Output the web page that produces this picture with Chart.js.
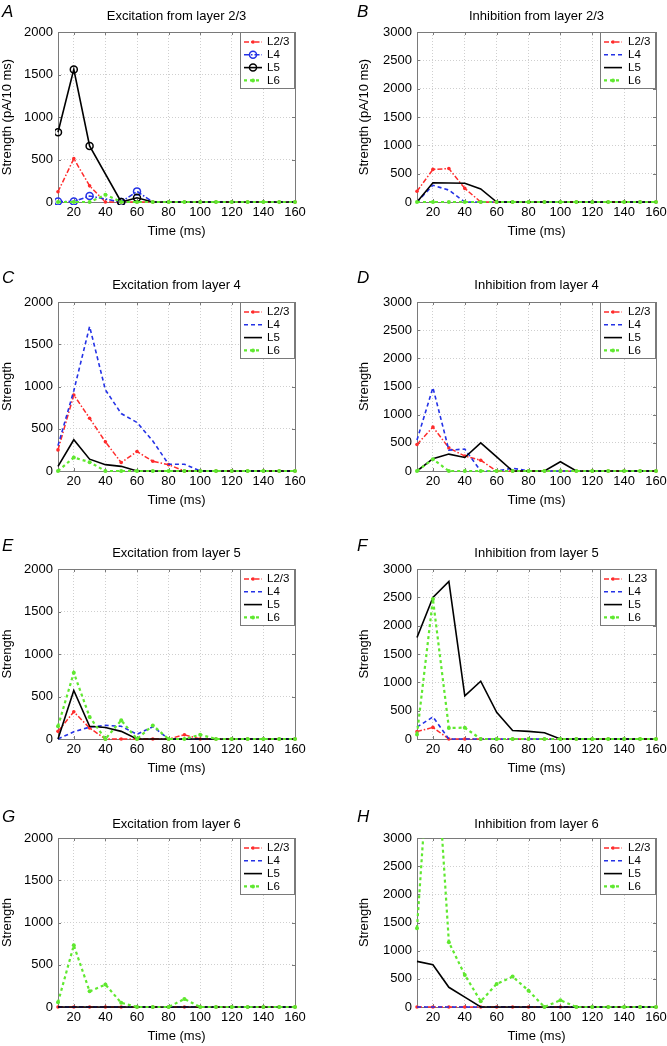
<!DOCTYPE html>
<html>
<head>
<meta charset="utf-8">
<script src="https://cdn.jsdelivr.net/npm/chart.js@4.4.0/dist/chart.umd.min.js"></script>
<style>
  body { margin: 0; background: #fff; width: 667px; height: 1046px; position: relative; overflow: hidden; }
  canvas { position: absolute; }
</style>
</head>
<body>
<canvas id="pA"></canvas><canvas id="pB"></canvas>
<canvas id="pC"></canvas><canvas id="pD"></canvas>
<canvas id="pE"></canvas><canvas id="pF"></canvas>
<canvas id="pG"></canvas><canvas id="pH"></canvas>
<script>
// time bins (ms) and axis ticks
var times = [10, 20, 30, 40, 50, 60, 70, 80, 90, 100, 110, 120, 130, 140, 150, 160];
var xTicks = [20, 40, 60, 80, 100, 120, 140, 160];
var layerNames = ['L2/3', 'L4', 'L5', 'L6'];
var layerNamesF = ['L23', 'L4', 'L5', 'L6'];

// A - excitation from layer 2/3 (no sample at 40 ms for L4/L5)
var aL23 = [120, 510, 190, 0, 0, 0, 0, 0, 0, 0, 0, 0, 0, 0, 0, 0];
var aL4  = [5, 5, 70, null, 0, 125, 0, 0, 0, 0, 0, 0, 0, 0, 0, 0];
var aL5  = [820, 1560, 660, null, 0, 50, 0, 0, 0, 0, 0, 0, 0, 0, 0, 0];
var aL6  = [0, 0, 0, 85, 0, 0, 0, 0, 0, 0, 0, 0, 0, 0, 0, 0];
// B - inhibition from layer 2/3
var bL23 = [190, 575, 590, 240, 0, 0, 0, 0, 0, 0, 0, 0, 0, 0, 0, 0];
var bL4  = [0, 295, 210, 0, 0, 0, 0, 0, 0, 0, 0, 0, 0, 0, 0, 0];
var bL5  = [0, 340, 335, 330, 230, 0, 0, 0, 0, 0, 0, 0, 0, 0, 0, 0];
var bL6  = [0, 0, 0, 0, 0, 0, 0, 0, 0, 0, 0, 0, 0, 0, 0, 0];
// C - excitation from layer 4
var cL23 = [250, 900, 625, 345, 100, 230, 115, 75, 0, 0, 0, 0, 0, 0, 0, 0];
var cL4  = [300, 950, 1710, 960, 680, 575, 355, 80, 80, 0, 0, 0, 0, 0, 0, 0];
var cL5  = [55, 370, 140, 75, 55, 0, 0, 0, 0, 0, 0, 0, 0, 0, 0, 0];
var cL6  = [0, 160, 105, 0, 0, 0, 0, 0, 0, 0, 0, 0, 0, 0, 0, 0];
// D - inhibition from layer 4
var dL23 = [470, 780, 410, 265, 190, 0, 0, 0, 0, 0, 0, 0, 0, 0, 0, 0];
var dL4  = [550, 1480, 370, 390, 0, 0, 50, 0, 0, 0, 0, 0, 0, 0, 0, 0];
var dL5  = [0, 220, 300, 240, 500, 250, 0, 0, 0, 165, 0, 0, 0, 0, 0, 0];
var dL6  = [0, 210, 0, 0, 0, 0, 0, 0, 0, 0, 0, 0, 0, 0, 0, 0];
// E - excitation from layer 5
var eL23 = [90, 320, 130, 0, 0, 0, 0, 0, 50, 0, 0, 0, 0, 0, 0, 0];
var eL4  = [0, 85, 140, 160, 150, 55, 145, 0, 0, 0, 0, 0, 0, 0, 0, 0];
var eL5  = [0, 570, 150, 135, 90, 0, 0, 0, 0, 0, 0, 0, 0, 0, 0, 0];
var eL6  = [150, 780, 260, 0, 220, 0, 160, 0, 0, 50, 0, 0, 0, 0, 0, 0];
// F - inhibition from layer 5
var fL23 = [130, 205, 0, 0, 0, 0, 0, 0, 0, 0, 0, 0, 0, 0, 0, 0];
var fL4  = [210, 390, 0, 0, 0, 0, 0, 0, 0, 0, 0, 0, 0, 0, 0, 0];
var fL5  = [1790, 2500, 2780, 760, 1020, 470, 150, 135, 110, 0, 0, 0, 0, 0, 0, 0];
var fL6  = [80, 2470, 195, 200, 0, 0, 0, 0, 0, 0, 0, 0, 0, 0, 0, 0];
// G - excitation from layer 6
var gL23 = [0, 0, 0, 0, 0, 0, 0, 0, 0, 0, 0, 0, 0, 0, 0, 0];
var gL4  = [0, 0, 0, 0, 0, 0, 0, 0, 0, 0, 0, 0, 0, 0, 0, 0];
var gL5  = [0, 0, 0, 0, 0, 0, 0, 0, 0, 0, 0, 0, 0, 0, 0, 0];
var gL6  = [55, 730, 185, 265, 50, 0, 0, 0, 95, 0, 0, 0, 0, 0, 0, 0];
// H - inhibition from layer 6 (L6 peak at 20 ms runs off the axis)
var hL23 = [0, 0, 0, 0, 0, 0, 0, 0, 0, 0, 0, 0, 0, 0, 0, 0];
var hL4  = [0, 0, 0, 0, 0, 0, 0, 0, 0, 0, 0, 0, 0, 0, 0, 0];
var hL5  = [810, 750, 350, 175, 0, 0, 0, 0, 0, 0, 0, 0, 0, 0, 0, 0];
var hL6  = [1400, 5550, 1150, 570, 100, 410, 540, 290, 0, 120, 0, 0, 0, 0, 0, 0];

Chart.defaults.font.family = '"Liberation Sans", Arial, Helvetica, sans-serif';
Chart.defaults.font.size = 13;
Chart.defaults.color = '#000';

var RED = '#ff2b2b', BLUE = '#2432e6', GREEN = '#5fe82f';

function lineStyle(i, circles) {
  var s = [
    { borderColor: RED, borderWidth: 1.5, borderDash: [5, 2, 1.5, 2], pointRadius: 1.8, pointBackgroundColor: RED, pointBorderWidth: 0 },
    { borderColor: BLUE, borderWidth: 1.6, borderDash: [4, 3], pointRadius: 0 },
    { borderColor: '#000', borderWidth: 1.6, borderDash: [], pointRadius: 0 },
    { borderColor: GREEN, borderWidth: 2.2, borderDash: [3, 3], pointRadius: 2, pointBackgroundColor: GREEN, pointBorderWidth: 0 }
  ][i];
  if (circles && (i === 1 || i === 2)) {
    // open circle markers, only drawn on the early part of the trace
    s.legendRadius = 3.5;
    s.pointRadius = function (c) { return c.parsed && c.parsed.x <= 60 ? 3.5 : 0; };
    s.pointBorderWidth = 1.5;
    s.pointBorderColor = s.borderColor;
    s.pointBackgroundColor = 'rgba(255,255,255,0)';
    s.spanGaps = true;
    if (i === 1) s.borderDash = [5, 2, 1.5, 2];
  }
  return s;
}

// frame, tick marks, legend box, panel letter and title
var decor = {
  id: 'decor',
  beforeDatasetsDraw: function (chart) {
    var ctx = chart.ctx, ca = chart.chartArea;
    var xs = chart.scales.x, ys = chart.scales.y;
    ctx.save();
    ctx.strokeStyle = '#7a7a7a';
    ctx.lineWidth = 1;
    ctx.beginPath();
    xs.ticks.forEach(function (t) {
      var px = Math.round(xs.getPixelForValue(t.value)) + 0.5;
      ctx.moveTo(px, ca.bottom); ctx.lineTo(px, ca.bottom - 3);
      ctx.moveTo(px, ca.top); ctx.lineTo(px, ca.top + 3);
    });
    ys.ticks.forEach(function (t) {
      var py = Math.round(ys.getPixelForValue(t.value)) + 0.5;
      ctx.moveTo(ca.left, py); ctx.lineTo(ca.left + 3, py);
      ctx.moveTo(ca.right, py); ctx.lineTo(ca.right - 3, py);
    });
    ctx.stroke();
    ctx.strokeRect(Math.round(ca.left) + 0.5, Math.round(ca.top) + 0.5,
      Math.round(ca.right - ca.left), Math.round(ca.bottom - ca.top));
    ctx.restore();
  },
  afterDatasetsDraw: function (chart, args, opts) {
    var ctx = chart.ctx, ca = chart.chartArea;
    var w = opts.legendWidth, h = 57;
    var x0 = Math.round(ca.right - w), y0 = Math.round(ca.top);
    ctx.save();
    ctx.fillStyle = '#fff';
    ctx.fillRect(x0, y0, w, h);
    ctx.strokeStyle = '#7a7a7a';
    ctx.lineWidth = 1;
    ctx.strokeRect(x0 + 0.5, y0 + 0.5, w - 1, h - 1);
    chart.data.datasets.forEach(function (ds, i) {
      var y = y0 + 10 + i * 12.8;
      var r = ds.legendRadius || (typeof ds.pointRadius === 'number' ? ds.pointRadius : 0);
      ctx.strokeStyle = ds.borderColor;
      ctx.lineWidth = ds.borderWidth;
      ctx.setLineDash(ds.borderDash || []);
      ctx.beginPath();
      ctx.moveTo(x0 + 4, y); ctx.lineTo(x0 + 22, y);
      ctx.stroke();
      ctx.setLineDash([]);
      if (r > 0) {
        ctx.beginPath();
        ctx.arc(x0 + 13, y, r, 0, Math.PI * 2);
        if (ds.pointBorderWidth > 0) {
          ctx.lineWidth = ds.pointBorderWidth;
          ctx.strokeStyle = ds.pointBorderColor;
          ctx.stroke();
        } else {
          ctx.fillStyle = ds.pointBackgroundColor;
          ctx.fill();
        }
      }
      ctx.fillStyle = '#000';
      ctx.font = '11.5px "Liberation Sans", Arial, sans-serif';
      ctx.textBaseline = 'middle';
      ctx.textAlign = 'left';
      ctx.fillText(ds.label, x0 + opts.legendTextX, y);
    });
    ctx.restore();
  },
  afterDraw: function (chart, args, opts) {
    var ctx = chart.ctx, ca = chart.chartArea;
    ctx.save();
    ctx.fillStyle = '#000';
    ctx.textBaseline = 'middle';
    ctx.textAlign = 'left';
    ctx.font = 'italic 17px "Liberation Sans", Arial, sans-serif';
    ctx.fillText(opts.letter, opts.letterX, ca.top + opts.letterDy);
    ctx.textAlign = 'center';
    ctx.font = '13px "Liberation Sans", Arial, sans-serif';
    ctx.fillText(opts.title, (ca.left + ca.right) / 2, ca.top + opts.titleDy);
    ctx.restore();
  }
};

var panelSeries = [
  [aL23, aL4, aL5, aL6], [bL23, bL4, bL5, bL6],
  [cL23, cL4, cL5, cL6], [dL23, dL4, dL5, dL6],
  [eL23, eL4, eL5, eL6], [fL23, fL4, fL5, fL6],
  [gL23, gL4, gL5, gL6], [hL23, hL4, hL5, hL6]
];
var panelIds = ['pA', 'pB', 'pC', 'pD', 'pE', 'pF', 'pG', 'pH'];
var panelLetters = ['A', 'B', 'C', 'D', 'E', 'F', 'G', 'H'];
var panelTitles = [
  'Excitation from layer 2/3', 'Inhibition from layer 2/3',
  'Excitation from layer 4', 'Inhibition from layer 4',
  'Excitation from layer 5', 'Inhibition from layer 5',
  'Excitation from layer 6', 'Inhibition from layer 6'
];
var panelYMax = [2000, 3000, 2000, 3000, 2000, 3000, 2000, 3000];

// page layout of the 2x4 grid
var rowTop = [0, 270, 537, 806];
var rowHeight = [240, 239, 240, 239];
var rowLetterDy = [-20, -24, -23, -21];
var rowTitleDy = [-16, -17, -16, -14];
var cols = [
  { left: 0, width: 309, padLeft: 0, yWidth: 58, letterX: 2, legendWidth: 55, legendTextX: 27 },
  { left: 340, width: 330, padLeft: 17, yWidth: 60, letterX: 17, legendWidth: 56, legendTextX: 28 }
];

panelIds.forEach(function (id, p) {
  var row = Math.floor(p / 2), col = cols[p % 2];
  var cv = document.getElementById(id);
  cv.width = col.width;
  cv.height = rowHeight[row];
  cv.style.left = col.left + 'px';
  cv.style.top = rowTop[row] + 'px';

  var names = p === 5 ? layerNamesF : layerNames;
  var datasets = panelSeries[p].map(function (vals, i) {
    var ds = lineStyle(i, p === 0);
    ds.label = names[i];
    ds.data = vals;
    ds.tension = 0;
    ds.fill = false;
    ds.order = 3 - i;
    ds.clip = { left: 3, right: 3, top: 0, bottom: 3 };
    return ds;
  });

  new Chart(cv.getContext('2d'), {
    type: 'line',
    data: { labels: times, datasets: datasets },
    options: {
      responsive: false,
      animation: false,
      events: [],
      layout: { padding: { left: col.padLeft, right: 14, top: 32, bottom: 0 } },
      plugins: {
        legend: { display: false },
        tooltip: { enabled: false },
        decor: {
          letter: panelLetters[p], title: panelTitles[p],
          letterX: col.letterX, letterDy: rowLetterDy[row], titleDy: rowTitleDy[row],
          legendWidth: col.legendWidth, legendTextX: col.legendTextX
        }
      },
      scales: {
        x: {
          type: 'linear',
          min: 10,
          max: 160,
          afterBuildTicks: function (s) { s.ticks = xTicks.map(function (v) { return { value: v }; }); },
          afterFit: function (s) { s.height = 38; s.paddingLeft = 0; s.paddingRight = 0; },
          ticks: { padding: 3, maxRotation: 0, autoSkip: false, callback: function (v) { return String(v); } },
          grid: { color: '#cfcfcf', lineWidth: 1, drawTicks: false },
          border: { display: false, dash: [1, 2] },
          title: { display: true, text: 'Time (ms)', padding: { top: 0, bottom: 1 } }
        },
        y: {
          min: 0,
          max: panelYMax[p],
          afterFit: function (s) { s.width = col.yWidth; s.paddingTop = 0; s.paddingBottom = 0; },
          ticks: { stepSize: 500, padding: 5, callback: function (v) { return String(v); } },
          grid: { color: '#cfcfcf', lineWidth: 1, drawTicks: false },
          border: { display: false, dash: [1, 2] },
          title: { display: true, text: p < 2 ? 'Strength (pA/10 ms)' : 'Strength', padding: 0 }
        }
      }
    },
    plugins: [decor]
  });
});
</script>
</body>
</html>
